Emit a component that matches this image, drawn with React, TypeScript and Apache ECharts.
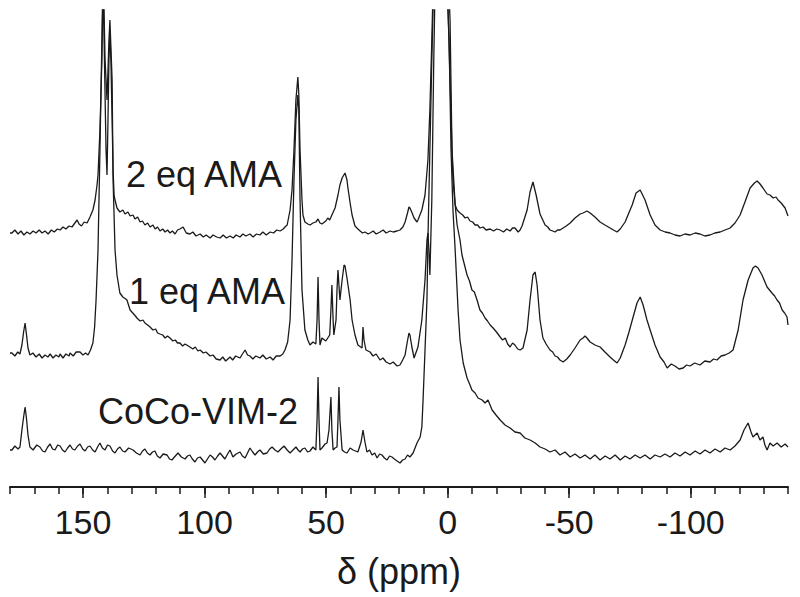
import React, { useEffect, useRef } from "react";
import * as echarts from "echarts";

const FONT = '"Liberation Sans", Arial, Helvetica, sans-serif';
const INK = "#1a1a1a";

// Tick labels (ppm) and trace labels
const MAJOR_TICKS = [150, 100, 50, 0, -50, -100];
const LABELS = ["2 eq AMA", "1 eq AMA", "CoCo-VIM-2"];

// [chemical shift (ppm), stacked intensity (a.u.)]
const TRACE_2EQ: number[][] = [
  [180, 254], [179.2, 254], [178, 257], [176.7, 253], [175.5, 256], [174.3, 252], [173, 255], [171.8, 253], [170.5, 256], [169.3, 254], [168, 257], [166.8, 254], [165.6, 256], [164.3, 253], [163, 257], [161.8, 255], [160.5, 258], [159.4, 257], [158.2, 260], [157, 258], [155.7, 261], [154.5, 260], [153.3, 264], [152.4, 267], [151.6, 263], [150.6, 261], [149.5, 265], [148.3, 264], [147.1, 270], [145.9, 277], [145, 287], [144.2, 302], [143.8, 312], [143, 357], [142.2, 427], [141.7, 507], [141.3, 447], [140.5, 337], [140.1, 312], [139.7, 367], [139.3, 427], [138.9, 454], [138.5, 427], [138, 367], [137.6, 317], [137.2, 292], [136.8, 287], [136, 279], [134.8, 275], [133.6, 277], [132.7, 273], [131.5, 275], [130.6, 271], [129.4, 272], [128.6, 268], [127.5, 270], [126.5, 265], [125.5, 266], [124.5, 262], [123.4, 264], [122.4, 260], [121.2, 262], [120.3, 258], [119.3, 260], [118.3, 256], [117.2, 258], [116.2, 255], [115.2, 257], [114.2, 254], [113.2, 256], [112.1, 253], [111.1, 257], [110.1, 258], [108.8, 260], [107.5, 254], [106, 253], [104.8, 255], [103.5, 251], [101.8, 253], [100.5, 250], [99.3, 252], [97.7, 249], [96.5, 252], [95, 250], [93.6, 249], [92.3, 252], [91, 249], [89.5, 251], [88.2, 249], [87, 252], [85.4, 250], [84.2, 253], [83, 251], [81.3, 253], [80, 250], [78.6, 253], [77.2, 252], [76, 255], [74.6, 252], [73, 255], [71.6, 254], [70.3, 257], [68.9, 256], [67.6, 258], [66.9, 260], [66, 262], [64.8, 277], [64, 297], [63.2, 337], [62.4, 387], [61.6, 410], [61.2, 392], [60.7, 337], [59.9, 287], [59.5, 272], [58.7, 265], [57.5, 263], [56.6, 262], [55.4, 264], [54.2, 265], [53.3, 268], [52.5, 264], [51.7, 263], [50.1, 266], [49.3, 269], [48.5, 267], [47.6, 272], [46.3, 279], [45.1, 292], [44.3, 302], [43.4, 309], [42.2, 314], [41.4, 307], [41, 299], [40.1, 284], [39.3, 272], [38.1, 261], [36.9, 258], [36, 256], [35, 254], [34, 255], [32.7, 253], [31.9, 254], [30.6, 256], [29.4, 253], [27.8, 255], [26.5, 257], [25.3, 254], [23.7, 256], [22.4, 255], [20.8, 256], [19.6, 257], [18.4, 260], [17.5, 265], [16.5, 274], [15.9, 280], [15.5, 279], [14.6, 274], [13.8, 269], [12.6, 265], [12.2, 267], [10.6, 277], [9.3, 292], [8.1, 327], [7.3, 377], [6.5, 447], [5.7, 527], [3.2, 640], [0.3, 547], [-1.0, 467], [-1.8, 337], [-2.2, 307], [-3.1, 282], [-3.9, 277], [-5.1, 274], [-6.2, 272], [-7.2, 269], [-8.2, 270], [-9.2, 266], [-10.3, 265], [-11.3, 262], [-12.3, 262], [-13.3, 259], [-14.6, 260], [-15.8, 257], [-17.5, 258], [-18.9, 256], [-20.2, 258], [-21.6, 257], [-23, 255], [-24.3, 258], [-25.7, 256], [-26.7, 259], [-27.7, 259], [-29, 255], [-29.8, 257], [-30.6, 261], [-32.7, 277], [-33.9, 295], [-35.1, 305], [-36.4, 292], [-38, 273], [-40.1, 262], [-41.2, 260], [-42.1, 257], [-43.2, 256], [-44.2, 255], [-45.2, 257], [-46.2, 257], [-47.5, 259], [-48.8, 261], [-50.4, 264], [-52.4, 269], [-54.5, 273], [-55.7, 274], [-57.3, 276], [-58.6, 274], [-60.6, 270], [-62.7, 265], [-64.7, 262], [-66.8, 259], [-68.2, 257], [-69.7, 255], [-71, 258], [-73, 265], [-75.9, 282], [-77.5, 294], [-79.2, 297], [-81.2, 287], [-83.3, 272], [-85.3, 262], [-87.4, 257], [-89.5, 255], [-91.5, 254], [-93.5, 252], [-95.6, 251], [-97.6, 253], [-99.7, 252], [-101.8, 254], [-103.8, 253], [-105.8, 251], [-107.9, 252], [-109.9, 254], [-112.1, 255], [-114.1, 257], [-116.2, 259], [-118.2, 264], [-120.3, 272], [-122.3, 285], [-124.4, 299], [-126.2, 304], [-127.3, 306], [-128.5, 303], [-129.7, 299], [-131.4, 293], [-132.6, 292], [-133.9, 289], [-135.1, 290], [-135.9, 287], [-137.2, 284], [-138.8, 279], [-140, 271],
];

const TRACE_1EQ: number[][] = [
  [180, 134], [179.2, 134], [178, 131], [176.8, 135], [175.9, 133], [175.1, 142], [174.4, 155], [173.8, 164], [173.2, 152], [172.6, 139], [171.8, 132], [170.6, 134], [169.3, 130], [168, 133], [166.8, 129], [165.6, 132], [164.4, 130], [163.5, 133], [162.3, 129], [161.1, 132], [159.9, 130], [159.4, 133], [158.2, 129], [157, 133], [155.7, 131], [155.3, 134], [154, 131], [152.8, 135], [151.2, 135], [150, 132], [148.9, 134], [147.9, 132], [146.9, 137], [145.9, 144], [145.2, 160], [144.6, 187], [143.8, 237], [143, 337], [142.2, 447], [141.7, 520], [140.9, 427], [140.1, 387], [139.3, 447], [138.9, 467], [138, 407], [137.6, 307], [136.8, 237], [136, 212], [134.8, 194], [133.6, 190], [132.4, 188], [131.9, 187], [130.6, 177], [129.5, 174], [128.4, 171], [127.8, 169], [126.5, 166], [125.3, 167], [124.5, 164], [123.4, 162], [122.4, 160], [121.2, 157], [120.1, 158], [119.3, 154], [118.3, 153], [117.2, 152], [116.2, 149], [115.2, 151], [114.2, 149], [113, 146], [112, 147], [111.1, 144], [110.1, 144], [109, 141], [108, 143], [106, 140], [104.8, 138], [103.8, 140], [102.7, 136], [101.8, 137], [100.5, 134], [99.4, 135], [97.7, 131], [96.5, 132], [95.2, 128], [93.6, 127], [92.5, 130], [91.3, 126], [89.5, 130], [88.4, 127], [87.2, 131], [85.4, 129], [84.4, 133], [83.3, 137], [82.3, 132], [81.3, 131], [80.1, 128], [78.9, 131], [77.2, 129], [76, 132], [74.6, 128], [73, 130], [71.8, 127], [70.5, 131], [68.9, 131], [67.8, 133], [66.9, 137], [65.8, 145], [64.8, 167], [64, 227], [63.2, 307], [62.4, 367], [61.6, 392], [61.2, 377], [60.7, 287], [59.9, 197], [58.7, 157], [57.5, 147], [56.6, 142], [55.4, 145], [54.2, 143], [53.7, 167], [53.3, 210], [52.9, 167], [52.5, 142], [51.7, 149], [50.1, 146], [48.5, 152], [48, 177], [47.6, 202], [47.1, 167], [46.8, 152], [45.9, 167], [45.5, 197], [45.1, 217], [44.7, 202], [44.3, 187], [43.4, 207], [42.6, 222], [42.2, 221], [41.4, 209], [40.1, 187], [39.3, 167], [38.1, 152], [36.9, 142], [35.2, 139], [34.8, 160], [34.4, 147], [33.6, 137], [31.9, 135], [30.7, 131], [29.4, 133], [27.8, 127], [26.6, 129], [25.3, 125], [23.7, 123], [22.4, 125], [20.8, 121], [19.6, 122], [18.5, 127], [17.5, 132], [16.6, 145], [15.9, 154], [15.5, 152], [14.7, 140], [13.8, 129], [12.2, 140], [10.6, 167], [9.3, 207], [8.5, 247], [8.1, 254], [7.7, 237], [7.3, 212], [6.5, 287], [5.7, 427], [4.9, 537], [2.8, 640], [0.3, 517], [-1.0, 407], [-1.8, 337], [-3.1, 282], [-3.9, 262], [-5.1, 247], [-5.9, 232], [-8.0, 212], [-9.0, 206], [-10.0, 197], [-11.0, 195], [-12.1, 187], [-13.3, 177], [-14.3, 174], [-15.4, 169], [-16.4, 166], [-17.5, 162], [-18.7, 159], [-20.1, 155], [-21.6, 150], [-22.6, 147], [-23.7, 149], [-24.7, 143], [-25.7, 140], [-26.7, 144], [-27.7, 142], [-28.8, 138], [-29.8, 137], [-31.0, 139], [-32.7, 157], [-33.9, 187], [-35.1, 212], [-36.0, 215], [-36.8, 202], [-38.0, 167], [-39.2, 149], [-40.5, 143], [-42.1, 137], [-43.2, 135], [-44.2, 131], [-45.2, 130], [-46.2, 127], [-47.5, 125], [-49, 128], [-50.4, 132], [-52.4, 139], [-54.5, 147], [-55.7, 149], [-56.5, 151], [-57.3, 149], [-58.6, 145], [-60.6, 142], [-62.7, 140], [-64.7, 135], [-66.8, 130], [-68.2, 127], [-69.7, 124], [-71.0, 129], [-73.0, 142], [-74.6, 155], [-76.3, 170], [-77.9, 184], [-79.2, 190], [-80.4, 182], [-82.0, 167], [-83.3, 157], [-85.3, 142], [-87.4, 130], [-89, 125], [-90.3, 119], [-92, 123], [-93.5, 121], [-95.2, 118], [-96.9, 119], [-98.3, 122], [-99.7, 121], [-101.6, 124], [-103.8, 122], [-105.8, 126], [-107.9, 125], [-109.4, 128], [-110.8, 127], [-112.5, 131], [-114.1, 132], [-115.8, 134], [-117.4, 137], [-119.5, 157], [-121.5, 187], [-123.6, 207], [-125.6, 219], [-126.6, 221], [-127.7, 219], [-129.3, 212], [-131.4, 200], [-132.4, 197], [-133.4, 194], [-134.5, 191], [-135.5, 187], [-136.5, 184], [-137.6, 177], [-138.6, 174], [-139.6, 170], [-140, 162],
];

const TRACE_COCO: number[][] = [
  [180, 37], [179.2, 37], [178, 41], [176.7, 38], [175.9, 40], [175.1, 57], [174.4, 70], [173.8, 80], [173.2, 68], [172.6, 52], [171.8, 40], [170.5, 37], [169, 42], [167.7, 40], [166.6, 36], [165.6, 35], [164.5, 40], [163.5, 43], [162.5, 38], [161.5, 37], [160.4, 42], [159.4, 41], [158.4, 37], [157.4, 35], [156.3, 39], [155.3, 42], [154.3, 38], [153.3, 37], [152.2, 41], [151.2, 43], [150.1, 38], [149.1, 36], [148.1, 40], [147.1, 41], [146, 37], [145, 35], [144, 40], [143, 44], [142, 39], [140.9, 37], [139.9, 42], [138.9, 41], [137.8, 36], [136.8, 34], [135.8, 38], [134.8, 40], [133.7, 36], [132.7, 35], [131.2, 39], [129.4, 37], [128, 34], [126.5, 32], [125.5, 36], [124.5, 38], [123.5, 34], [122.4, 32], [121.4, 35], [120.4, 36], [119.4, 31], [118.3, 29], [117, 33], [115.4, 32], [114.4, 28], [113.4, 27], [112, 31], [110.9, 34], [109.5, 30], [108, 28], [107, 31], [106, 32], [105, 28], [103.9, 25], [102.9, 29], [101.8, 30], [100.8, 27], [99.8, 24], [98.8, 28], [97.7, 32], [96.7, 30], [95.7, 27], [94.6, 31], [93.6, 34], [92.6, 31], [91.6, 28], [90.5, 33], [89.5, 37], [88.3, 30], [87, 33], [85.4, 35], [84.4, 31], [83.3, 29], [82.3, 34], [81.3, 39], [80.2, 35], [79.2, 32], [78.2, 35], [77.2, 37], [75.8, 33], [74.3, 34], [73.2, 38], [72.2, 40], [71, 37], [69.8, 35], [68.6, 38], [67.3, 41], [66, 37], [64.8, 34], [63.6, 37], [62.4, 40], [61.5, 37], [60.7, 35], [59.7, 38], [58.7, 39], [57.6, 35], [56.6, 36], [55.4, 40], [54.2, 37], [53.7, 67], [53.3, 110], [52.9, 67], [52.5, 37], [51.7, 39], [50.4, 43], [49.6, 44], [48.8, 57], [48, 90], [47.6, 57], [47.1, 37], [46.3, 39], [45.5, 40], [45.1, 67], [44.7, 100], [44.3, 67], [43.4, 37], [42.4, 35], [41.4, 34], [40.1, 39], [38.9, 37], [36.9, 35], [35.6, 45], [34.8, 57], [34, 45], [33.2, 35], [32.1, 37], [31.1, 32], [30, 34], [29, 29], [28, 33], [27, 32], [26, 29], [24.9, 27], [23.9, 31], [22.9, 30], [21.9, 28], [20.8, 26], [19.6, 24], [18.5, 27], [17.5, 28], [16.5, 32], [15.5, 30], [14.2, 34], [12.6, 44], [11.3, 50], [10.6, 60], [10.1, 87], [9.3, 137], [8.5, 187], [8.1, 247], [7.3, 337], [6.5, 427], [5.7, 507], [3.2, 640], [0.6, 527], [-0.6, 447], [-1.4, 337], [-2.2, 277], [-3.1, 237], [-4.3, 177], [-5.1, 147], [-6.4, 124], [-8.0, 109], [-9.2, 102], [-10.0, 97], [-11.3, 94], [-12.5, 89], [-14.2, 87], [-15.4, 84], [-16.6, 87], [-18.3, 77], [-19.9, 72], [-21.6, 67], [-23.6, 62], [-25.7, 59], [-27.7, 55], [-29.8, 54], [-31.8, 49], [-33.9, 47], [-36.0, 44], [-38.0, 40], [-40.1, 38], [-42.1, 35], [-44.2, 37], [-46.2, 32], [-48.3, 35], [-50.4, 30], [-52.4, 33], [-54.5, 29], [-56.5, 32], [-58.6, 28], [-60.6, 32], [-62.7, 27], [-64.8, 31], [-66.8, 28], [-68.9, 32], [-71.0, 27], [-73.0, 31], [-75.0, 28], [-77.1, 32], [-79.2, 29], [-81.2, 32], [-83.3, 28], [-85.3, 32], [-87.4, 30], [-89.4, 33], [-91.5, 30], [-93.5, 34], [-95.6, 31], [-97.7, 35], [-99.7, 32], [-101.8, 36], [-103.8, 33], [-105.9, 37], [-107.9, 34], [-110.0, 38], [-112.1, 35], [-114.1, 39], [-116.2, 37], [-118.2, 41], [-120.3, 47], [-121.9, 57], [-123.6, 64], [-124.8, 55], [-125.6, 50], [-127.3, 54], [-128.5, 47], [-129.7, 50], [-130.5, 42], [-131.4, 37], [-132.6, 44], [-133.9, 41], [-135.5, 44], [-137.2, 40], [-138.8, 43], [-140, 40],
];

export default function App() {
  const ref = useRef<HTMLDivElement>(null);

  useEffect(() => {
    if (!ref.current) return;
    const chart = echarts.init(ref.current, null, { renderer: "svg" });

    const lineSeries = (name: string, data: number[][]) => ({
      type: "line",
      name,
      data,
      xAxisIndex: 0,
      yAxisIndex: 0,
      showSymbol: false,
      symbol: "none",
      clip: true,
      silent: true,
      lineStyle: { color: INK, width: 1.3 },
      itemStyle: { color: INK },
    });

    const labelPos = [
      { x: 126, y: 174 },
      { x: 129, y: 291 },
      { x: 98, y: 411 },
    ];

    chart.setOption({
      animation: false,
      backgroundColor: "#ffffff",
      grid: { left: 10, right: 12, top: 10, bottom: 110, containLabel: false },
      xAxis: [
        {
          type: "value",
          min: -140,
          max: 180,
          inverse: true,
          position: "bottom",
          axisLine: { show: true, onZero: false, lineStyle: { color: INK, width: 2 } },
          axisTick: {
            show: true,
            length: 11,
            customValues: MAJOR_TICKS,
            lineStyle: { color: INK, width: 1.5 },
          },
          axisLabel: {
            show: true,
            customValues: MAJOR_TICKS,
            fontSize: 34,
            fontFamily: FONT,
            color: INK,
            margin: 18,
          },
          splitLine: { show: false },
          name: "δ (ppm)",
          nameLocation: "middle",
          nameGap: 66,
          nameTextStyle: { fontSize: 36, fontFamily: FONT, color: INK },
        },
        {
          type: "value",
          min: -140,
          max: 180,
          interval: 10,
          inverse: true,
          position: "bottom",
          axisLine: { show: false, onZero: false },
          axisTick: { show: true, length: 7, lineStyle: { color: INK, width: 1.5 } },
          axisLabel: { show: false },
          splitLine: { show: false },
        },
      ],
      yAxis: { type: "value", min: 0, max: 477, show: false },
      graphic: LABELS.map((t, i) => ({
        type: "text",
        x: labelPos[i].x,
        y: labelPos[i].y,
        silent: true,
        style: {
          text: t,
          font: `36px ${FONT}`,
          fill: INK,
          align: "left",
          verticalAlign: "middle",
        },
      })),
      series: [
        lineSeries(LABELS[0], TRACE_2EQ),
        lineSeries(LABELS[1], TRACE_1EQ),
        lineSeries(LABELS[2], TRACE_COCO),
      ],
    });

    return () => chart.dispose();
  }, []);

  return (
    <div
      ref={ref}
      style={{ position: "fixed", left: 0, top: 0, width: 800, height: 597, background: "#fff" }}
    />
  );
}
